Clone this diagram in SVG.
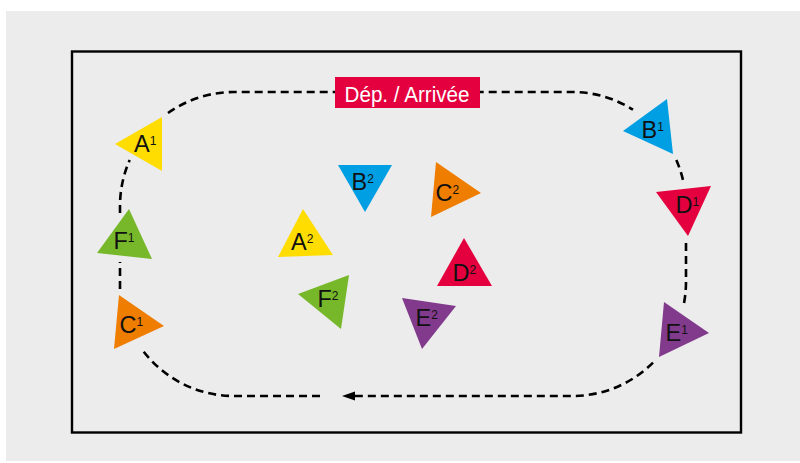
<svg xmlns="http://www.w3.org/2000/svg" width="800" height="463" viewBox="0 0 800 463">
<defs>
<style>
.trk{fill:none;stroke:#000;stroke-width:2.6;stroke-dasharray:8 5}
.lbl{font-family:"Liberation Sans",Arial,sans-serif;font-size:23.5px;fill:#111}
.sup{font-size:12px}
.y{fill:#ffdd00}.b{fill:#009fe3}.o{fill:#ef7d00}.r{fill:#e4003e}.g{fill:#77b82a}.p{fill:#813a8c}
</style>
<marker id="ah" markerUnits="userSpaceOnUse" markerWidth="14" markerHeight="10" refX="5" refY="4.5" orient="auto">
<path d="M0,0 L13,4.5 L0,9 z" fill="#000"/>
</marker>
</defs>
<rect x="0" y="0" width="800" height="463" fill="#fff"/>
<rect x="6" y="11" width="794" height="450" fill="#ececec"/>
<rect x="72" y="51.5" width="669" height="381" fill="none" stroke="#000" stroke-width="2.4"/>
<g id="connectors">
<path class="trk" d="M168,113 A114,114 0 0 1 234,92 L572,92 A114,114 0 0 1 633,109.7"/>
<path class="trk" d="M676.3,160 A114,114 0 0 1 683.2,181"/>
<path class="trk" d="M686,243 L686,282 A114,114 0 0 1 683.2,307"/>
<path class="trk" d="M653,362.6 A114,114 0 0 1 572,396 L350,396" marker-end="url(#ah)"/>
<path class="trk" d="M320,396 L234,396 A114,114 0 0 1 141,348"/>
<path class="trk" d="M120,289 L120,262"/>
<path class="trk" d="M120,213 L120,206 A114,114 0 0 1 129.7,160"/>
</g>
<g id="start">
<rect x="335" y="77" width="145" height="31" fill="#e4003e"/>
<text x="407" y="101.5" text-anchor="middle" font-family="'Liberation Sans',Arial,sans-serif" font-size="22" fill="#fff" textLength="125" lengthAdjust="spacingAndGlyphs">Dép. / Arrivée</text>
</g>
<g id="A1"><polygon class="y" points="115,144 162,117 162,171"/><text class="lbl" x="134" y="152">A<tspan class="sup" dy="-7.5">1</tspan></text></g>
<g id="F1"><polygon class="g" points="129,209 97,253 152,259"/><text class="lbl" x="113.5" y="249">F<tspan class="sup" dy="-7.5">1</tspan></text></g>
<g id="C1"><polygon class="o" points="119,295 164,326 114,349"/><text class="lbl" x="119.5" y="333">C<tspan class="sup" dy="-7.5">1</tspan></text></g>
<g id="B1"><polygon class="b" points="623,131 667,99 673,154"/><text class="lbl" x="641.5" y="138">B<tspan class="sup" dy="-7.5">1</tspan></text></g>
<g id="D1"><polygon class="r" points="656,192 711,186 688,236"/><text class="lbl" x="675.5" y="213">D<tspan class="sup" dy="-7.5">1</tspan></text></g>
<g id="E1"><polygon class="p" points="664,302 709,333 659,357"/><text class="lbl" x="665.5" y="341">E<tspan class="sup" dy="-7.5">1</tspan></text></g>
<g id="B2"><polygon class="b" points="338,165 392,165 365,212"/><text class="lbl" x="351.5" y="190">B<tspan class="sup" dy="-7.5">2</tspan></text></g>
<g id="C2"><polygon class="o" points="436,162 481,193 431,217"/><text class="lbl" x="435.5" y="201">C<tspan class="sup" dy="-7.5">2</tspan></text></g>
<g id="A2"><polygon class="y" points="303,209 278,257 333,255"/><text class="lbl" x="291" y="250">A<tspan class="sup" dy="-7.5">2</tspan></text></g>
<g id="D2"><polygon class="r" points="464,238 437,286 492,286"/><text class="lbl" x="452.5" y="281">D<tspan class="sup" dy="-7.5">2</tspan></text></g>
<g id="F2"><polygon class="g" points="298,294 349,275 341,329"/><text class="lbl" x="317.5" y="307">F<tspan class="sup" dy="-7.5">2</tspan></text></g>
<g id="E2"><polygon class="p" points="402,298 456,306 422,349"/><text class="lbl" x="415.5" y="326">E<tspan class="sup" dy="-7.5">2</tspan></text></g>
</svg>
